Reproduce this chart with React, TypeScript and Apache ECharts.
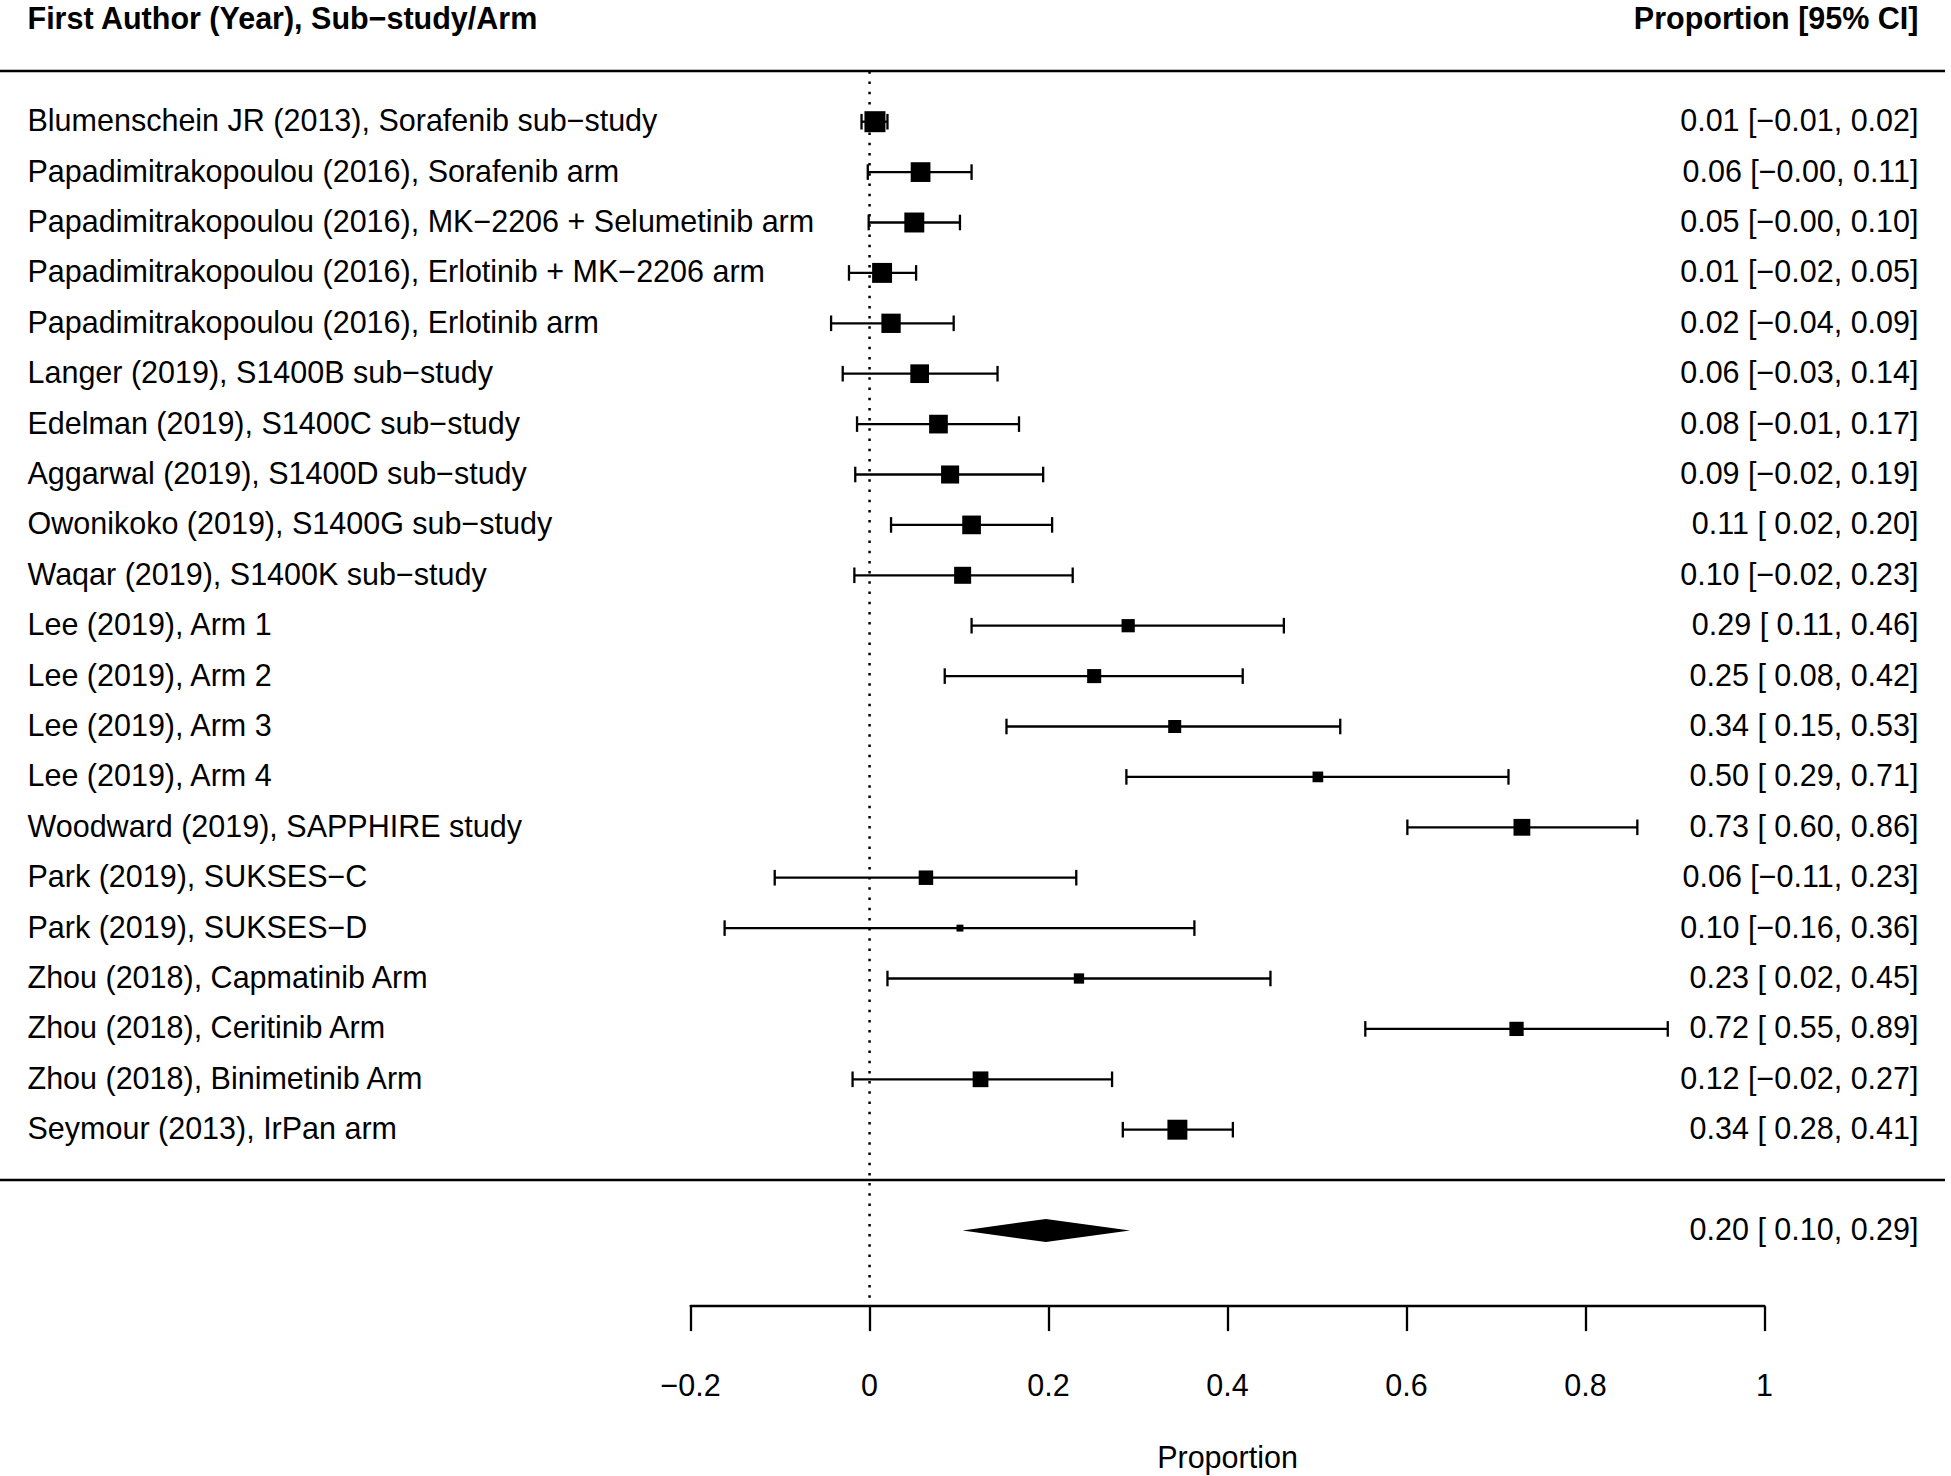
import React, { useEffect, useRef } from "react";
import * as echarts from "echarts";

// ---------- data ----------
const studyLabels = [
  "Blumenschein JR (2013), Sorafenib sub−study",
  "Papadimitrakopoulou (2016), Sorafenib arm",
  "Papadimitrakopoulou (2016), MK−2206 + Selumetinib arm",
  "Papadimitrakopoulou (2016), Erlotinib + MK−2206 arm",
  "Papadimitrakopoulou (2016), Erlotinib arm",
  "Langer (2019), S1400B sub−study",
  "Edelman (2019), S1400C sub−study",
  "Aggarwal (2019), S1400D sub−study",
  "Owonikoko (2019), S1400G sub−study",
  "Waqar (2019), S1400K sub−study",
  "Lee (2019), Arm 1",
  "Lee (2019), Arm 2",
  "Lee (2019), Arm 3",
  "Lee (2019), Arm 4",
  "Woodward (2019), SAPPHIRE study",
  "Park (2019), SUKSES−C",
  "Park (2019), SUKSES−D",
  "Zhou (2018), Capmatinib Arm",
  "Zhou (2018), Ceritinib Arm",
  "Zhou (2018), Binimetinib Arm",
  "Seymour (2013), IrPan arm",
];
const estimates = [0.006, 0.057, 0.05, 0.014, 0.024, 0.056, 0.077, 0.09, 0.114, 0.104, 0.289, 0.251, 0.341, 0.501, 0.729, 0.063, 0.101, 0.234, 0.723, 0.124, 0.344];
const lowerCI = [-0.009, -0.002, -0.001, -0.023, -0.043, -0.03, -0.014, -0.016, 0.024, -0.017, 0.114, 0.084, 0.153, 0.287, 0.601, -0.106, -0.162, 0.02, 0.554, -0.019, 0.283];
const upperCI = [0.02, 0.114, 0.101, 0.052, 0.094, 0.143, 0.167, 0.194, 0.204, 0.227, 0.463, 0.417, 0.526, 0.714, 0.858, 0.231, 0.363, 0.448, 0.892, 0.271, 0.406];
// relative study weight (drives box size)
const relWeights = [1, 0.94, 0.95, 0.95, 0.92, 0.89, 0.89, 0.86, 0.89, 0.81, 0.63, 0.67, 0.62, 0.51, 0.8, 0.69, 0.33, 0.49, 0.68, 0.75, 0.95];
const pooledEstimate = 0.197;
const pooledLower = 0.104;
const pooledUpper = 0.291;
const xTicks = [-0.2, 0, 0.2, 0.4, 0.6, 0.8, 1];
const leftHeader = "First Author (Year), Sub−study/Arm";
const rightHeader = "Proportion [95% CI]";
const axisTitle = "Proportion";

// ---------- style ----------
const FONT = '"Liberation Sans", Arial, Helvetica, sans-serif';
const FS = 30.5;
const LEFT_X = 27.5;
const RIGHT_X = 1918.5;
const BOX_MAX = 21;
const CAP = 7.8;
const LW = 2.3;

const fmt = (v: number) => v.toFixed(2).replace("-", "−");
const ciText = (e: number, l: number, h: number) =>
  `${fmt(e)} [${l >= 0 ? " " : ""}${fmt(l)}, ${fmt(h)}]`;

export default function App() {
  const ref = useRef<HTMLDivElement>(null);

  useEffect(() => {
    if (!ref.current) return;
    const chart = echarts.init(ref.current, null, { renderer: "svg" });

    const rowData = studyLabels.map((_, i) => [estimates[i], lowerCI[i], upperCI[i], relWeights[i], i]);
    const pooledRow = studyLabels.length + 1;

    const textStyle = (text: string, align: string, bold = false) => ({
      text,
      fill: "#000",
      fontSize: FS,
      fontFamily: FONT,
      fontWeight: bold ? "bold" : "normal",
      align,
      verticalAlign: "middle",
    });

    const option: any = {
      animation: false,
      backgroundColor: "#fff",
      grid: {
        left: 690.6,
        right: 186.6,
        top: 71.3,
        height: 1234.8,
        containLabel: false,
        outerBoundsMode: "none",
      },
      xAxis: {
        type: "value",
        min: xTicks[0],
        max: xTicks[xTicks.length - 1],
        interval: 0.2,
        position: "bottom",
        axisLine: { show: true, onZero: false, lineStyle: { color: "#000", width: LW } },
        axisTick: { show: true, length: 25, lineStyle: { color: "#000", width: LW } },
        axisLabel: {
          margin: 63,
          color: "#000",
          fontSize: FS,
          fontFamily: FONT,
          formatter: (v: number) => (Math.abs(v) < 1e-9 ? "0" : String(+v.toFixed(1)).replace("-", "−")),
        },
        splitLine: { show: false },
        name: axisTitle,
        nameLocation: "middle",
        nameGap: 135,
        nameTextStyle: { color: "#000", fontSize: FS, fontFamily: FONT, lineHeight: 32 },
      },
      yAxis: {
        type: "value",
        inverse: true,
        min: -1,
        max: 23.5,
        show: false,
        splitLine: { show: false },
      },
      graphic: [
        { type: "text", x: LEFT_X, y: 18, style: textStyle(leftHeader, "left", true) },
        { type: "text", x: RIGHT_X, y: 18, style: textStyle(rightHeader, "right", true) },
        { type: "line", shape: { x1: 0, y1: 71, x2: 1945, y2: 71 }, style: { stroke: "#000", lineWidth: 2.7 } },
        { type: "line", shape: { x1: 0, y1: 1180, x2: 1945, y2: 1180 }, style: { stroke: "#000", lineWidth: 2.7 } },
      ],
      series: [
        {
          type: "line",
          data: [[0, -1], [0, 23.35]],
          symbol: "none",
          silent: true,
          z: 1,
          lineStyle: { color: "#000", width: 2.5, type: [2.5, 7.7] },
        },
        {
          type: "custom",
          clip: false,
          z: 3,
          silent: true,
          encode: { x: [0, 1, 2], y: 4 },
          data: rowData,
          renderItem: (params: any, api: any) => {
            const i = params.dataIndex;
            const est = api.value(0);
            const lo = api.value(1);
            const hi = api.value(2);
            const w = api.value(3);
            const row = api.value(4);
            const [xe, y] = api.coord([est, row]);
            const xl = api.coord([lo, row])[0];
            const xh = api.coord([hi, row])[0];
            const s = w * BOX_MAX;
            const ls = { stroke: "#000", lineWidth: LW };
            return {
              type: "group",
              children: [
                { type: "line", shape: { x1: xl, y1: y, x2: xh, y2: y }, style: ls },
                { type: "line", shape: { x1: xl, y1: y - CAP, x2: xl, y2: y + CAP }, style: ls },
                { type: "line", shape: { x1: xh, y1: y - CAP, x2: xh, y2: y + CAP }, style: ls },
                { type: "rect", shape: { x: xe - s / 2, y: y - s / 2, width: s, height: s }, style: { fill: "#000" } },
                { type: "text", x: LEFT_X, y: y - 1.5, style: textStyle(studyLabels[i], "left") },
                { type: "text", x: RIGHT_X, y: y - 1.5, style: textStyle(ciText(estimates[i], lowerCI[i], upperCI[i]), "right") },
              ],
            };
          },
        },
        {
          type: "custom",
          clip: false,
          z: 3,
          silent: true,
          encode: { x: [0, 1, 2], y: 3 },
          data: [[pooledEstimate, pooledLower, pooledUpper, pooledRow]],
          renderItem: (params: any, api: any) => {
            const row = api.value(3);
            const [xe, y] = api.coord([api.value(0), row]);
            const xl = api.coord([api.value(1), row])[0];
            const xh = api.coord([api.value(2), row])[0];
            const hh = 11.5;
            return {
              type: "group",
              children: [
                {
                  type: "polygon",
                  shape: { points: [[xl, y], [xe, y - hh], [xh, y], [xe, y + hh]] },
                  style: { fill: "#000" },
                },
                { type: "text", x: RIGHT_X, y: y - 1.5, style: textStyle(ciText(pooledEstimate, pooledLower, pooledUpper), "right") },
              ],
            };
          },
        },
      ],
    };

    chart.setOption(option);
    return () => chart.dispose();
  }, []);

  return (
    <div
      ref={ref}
      style={{ position: "absolute", left: 0, top: 0, width: 1951, height: 1476, background: "#fff" }}
    />
  );
}
